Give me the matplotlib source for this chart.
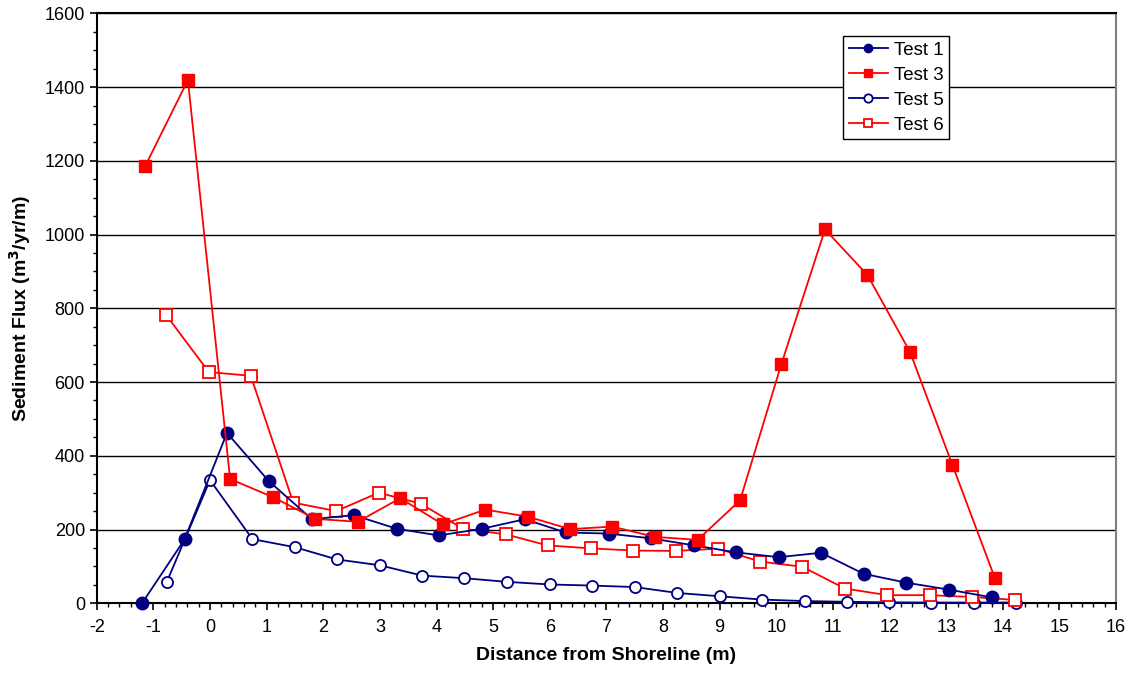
import matplotlib
matplotlib.use("Agg")
import matplotlib.pyplot as plt
from matplotlib.ticker import MultipleLocator

plt.rcParams['font.family'] = ['Liberation Sans', 'DejaVu Sans']
plt.rcParams['axes.unicode_minus'] = False

test1_x = [-1.2, -0.45, 0.3, 1.04, 1.8, 2.54, 3.3, 4.04, 4.8, 5.56, 6.28, 7.04, 7.79, 8.545, 9.29, 10.04, 10.79, 11.54, 12.29, 13.05, 13.8]
test1_y = [0, 173, 462, 331, 228, 239, 202, 184, 202, 228, 192, 189, 176, 157, 138, 125, 137, 80, 56, 37, 16]

test3_x = [-1.14, -0.39, 0.355, 1.11, 1.86, 2.61, 3.36, 4.11, 4.86, 5.61, 6.36, 7.10, 7.86, 8.61, 9.36, 10.09, 10.86, 11.61, 12.36, 13.11, 13.86]
test3_y = [1187, 1419, 337, 288, 229, 221, 285, 214, 254, 235, 201, 208, 180, 172, 279, 649, 1014, 890, 682, 375, 68]

test5_x = [-0.76, 0.0, 0.75, 1.50, 2.24, 3.0, 3.75, 4.49, 5.25, 6.0, 6.75, 7.50, 8.25, 9.0, 9.75, 10.5, 11.24, 11.99, 12.74, 13.49, 14.24]
test5_y = [59, 334, 174, 152, 119, 103, 75, 68, 58, 51, 48, 44, 28, 19, 10, 6, 4, 2.5, 2, 2, 2]

test6_x = [-0.78, -0.02, 0.72, 1.47, 2.23, 2.98, 3.72, 4.47, 5.22, 5.96, 6.72, 7.47, 8.22, 8.97, 9.72, 10.46, 11.21, 11.96, 12.71, 13.46, 14.22]
test6_y = [783, 627, 617, 273, 250, 300, 270, 202, 187, 157, 149, 143, 142, 148, 113, 99, 40, 22, 22, 17, 9]

x_ticks = list(range(-2, 17))
y_ticks = list(range(0, 1601, 200))

navy = '#000080'
red = '#FF0000'

fig = plt.figure(figsize=(11.3, 6.77), dpi=100)
ax = fig.add_axes([0.0856, 0.1089, 0.9021, 0.8714])

ax.plot(test1_x, test1_y, color=navy, lw=1.3, marker='o', ms=9, mfc=navy, mec=navy, label='Test 1', zorder=4, clip_on=False)
ax.plot(test3_x, test3_y, color=red, lw=1.3, marker='s', ms=8.5, mfc=red, mec=red, label='Test 3', zorder=5, clip_on=False)
ax.plot(test5_x, test5_y, color=navy, lw=1.3, marker='o', ms=8, mfc='white', mec=navy, mew=1.3, label='Test 5', zorder=3, clip_on=False)
ax.plot(test6_x, test6_y, color=red, lw=1.3, marker='s', ms=8, mfc='white', mec=red, mew=1.3, label='Test 6', zorder=3, clip_on=False)

ax.set_xlim(-2, 16)
ax.set_ylim(0, 1600)
ax.set_xticks(x_ticks)
ax.set_yticks(y_ticks)
ax.xaxis.set_minor_locator(MultipleLocator(0.2))
ax.yaxis.set_minor_locator(MultipleLocator(50))
ax.tick_params(axis='both', which='major', direction='out', length=5, width=1.2, labelsize=13, colors='black')
ax.tick_params(axis='both', which='minor', direction='out', length=3, width=1.0)
ax.tick_params(axis='x', pad=6)

ax.yaxis.grid(True, which='major', color='black', lw=1.0)
ax.set_axisbelow(True)

ax.spines['left'].set_linewidth(1.5)
ax.spines['bottom'].set_linewidth(1.5)
ax.spines['right'].set_color('#808080')
ax.spines['right'].set_linewidth(1.5)
ax.spines['top'].set_linewidth(1.5)

ax.set_xlabel('Distance from Shoreline (m)', fontsize=14, fontweight='bold', labelpad=8)
ax.set_ylabel('Sediment Flux (m$^\\mathbf{3}$/yr/m)', fontsize=14, fontweight='bold', labelpad=8)

leg = ax.legend(loc='upper left', bbox_to_anchor=(0.732, 0.962), fontsize=13.5, frameon=True,
                fancybox=False, edgecolor='black', framealpha=1, handlelength=2.1,
                borderpad=0.3, labelspacing=0.42, handletextpad=0.3, borderaxespad=0)
leg.get_frame().set_linewidth(1.0)
for h in leg.legend_handles:
    h.set_markersize(6)

fig.savefig('out.png', dpi=100)
